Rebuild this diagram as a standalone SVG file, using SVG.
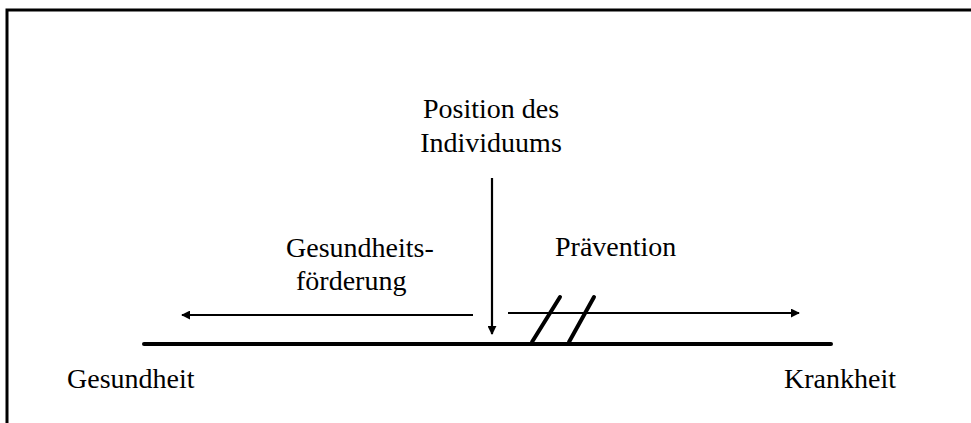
<svg xmlns="http://www.w3.org/2000/svg" width="971" height="423" viewBox="0 0 971 423">
  <style>
    text { font-family: "Liberation Serif", "Times New Roman", serif; font-size: 28px; fill: #000; }
    .frame { fill: none; stroke: #000; stroke-width: 3; }
    .axis { stroke: #000; stroke-width: 4; stroke-linecap: round; }
    .arrow { stroke: #000; stroke-width: 2.2; fill: none; }
    .slash { stroke: #000; stroke-width: 4; stroke-linecap: round; }
  </style>
  <defs>
    <marker id="head" viewBox="0 0 10 10" refX="9" refY="5" markerWidth="9" markerHeight="9" markerUnits="userSpaceOnUse" orient="auto">
      <path d="M0,0 L10,5 L0,10 Z" fill="#000"/>
    </marker>
  </defs>
  <rect width="971" height="423" fill="#fff"/>

  <!-- open frame: top and left edges -->
  <path class="frame" d="M7,423 L7,10 L971,10"/>

  <!-- continuum from health to illness -->
  <g id="axis">
    <line class="axis" x1="144" y1="344" x2="831" y2="344"/>
  </g>

  <g id="position">
    <text x="491" y="118" text-anchor="middle">Position des</text>
    <text x="491" y="152" text-anchor="middle">Individuums</text>
  </g>

  <g id="gesundheitsfoerderung">
    <text x="286" y="257">Gesundheits-</text>
    <text x="296" y="290">förderung</text>
  </g>

  <g id="praevention">
    <text x="555" y="256">Prävention</text>
  </g>

  <g id="gesundheit">
    <text x="67" y="388">Gesundheit</text>
  </g>

  <g id="krankheit">
    <text x="784" y="388">Krankheit</text>
  </g>

  <g id="connectors">
    <line class="arrow" x1="492" y1="178" x2="492" y2="334" marker-end="url(#head)"/>
    <line class="arrow" x1="473" y1="315" x2="182" y2="315" marker-end="url(#head)"/>
    <line class="arrow" x1="508" y1="313" x2="799" y2="313" marker-end="url(#head)"/>
    <line class="slash" x1="532" y1="342" x2="560" y2="297"/>
    <line class="slash" x1="569" y1="342" x2="594" y2="297"/>
  </g>
</svg>
